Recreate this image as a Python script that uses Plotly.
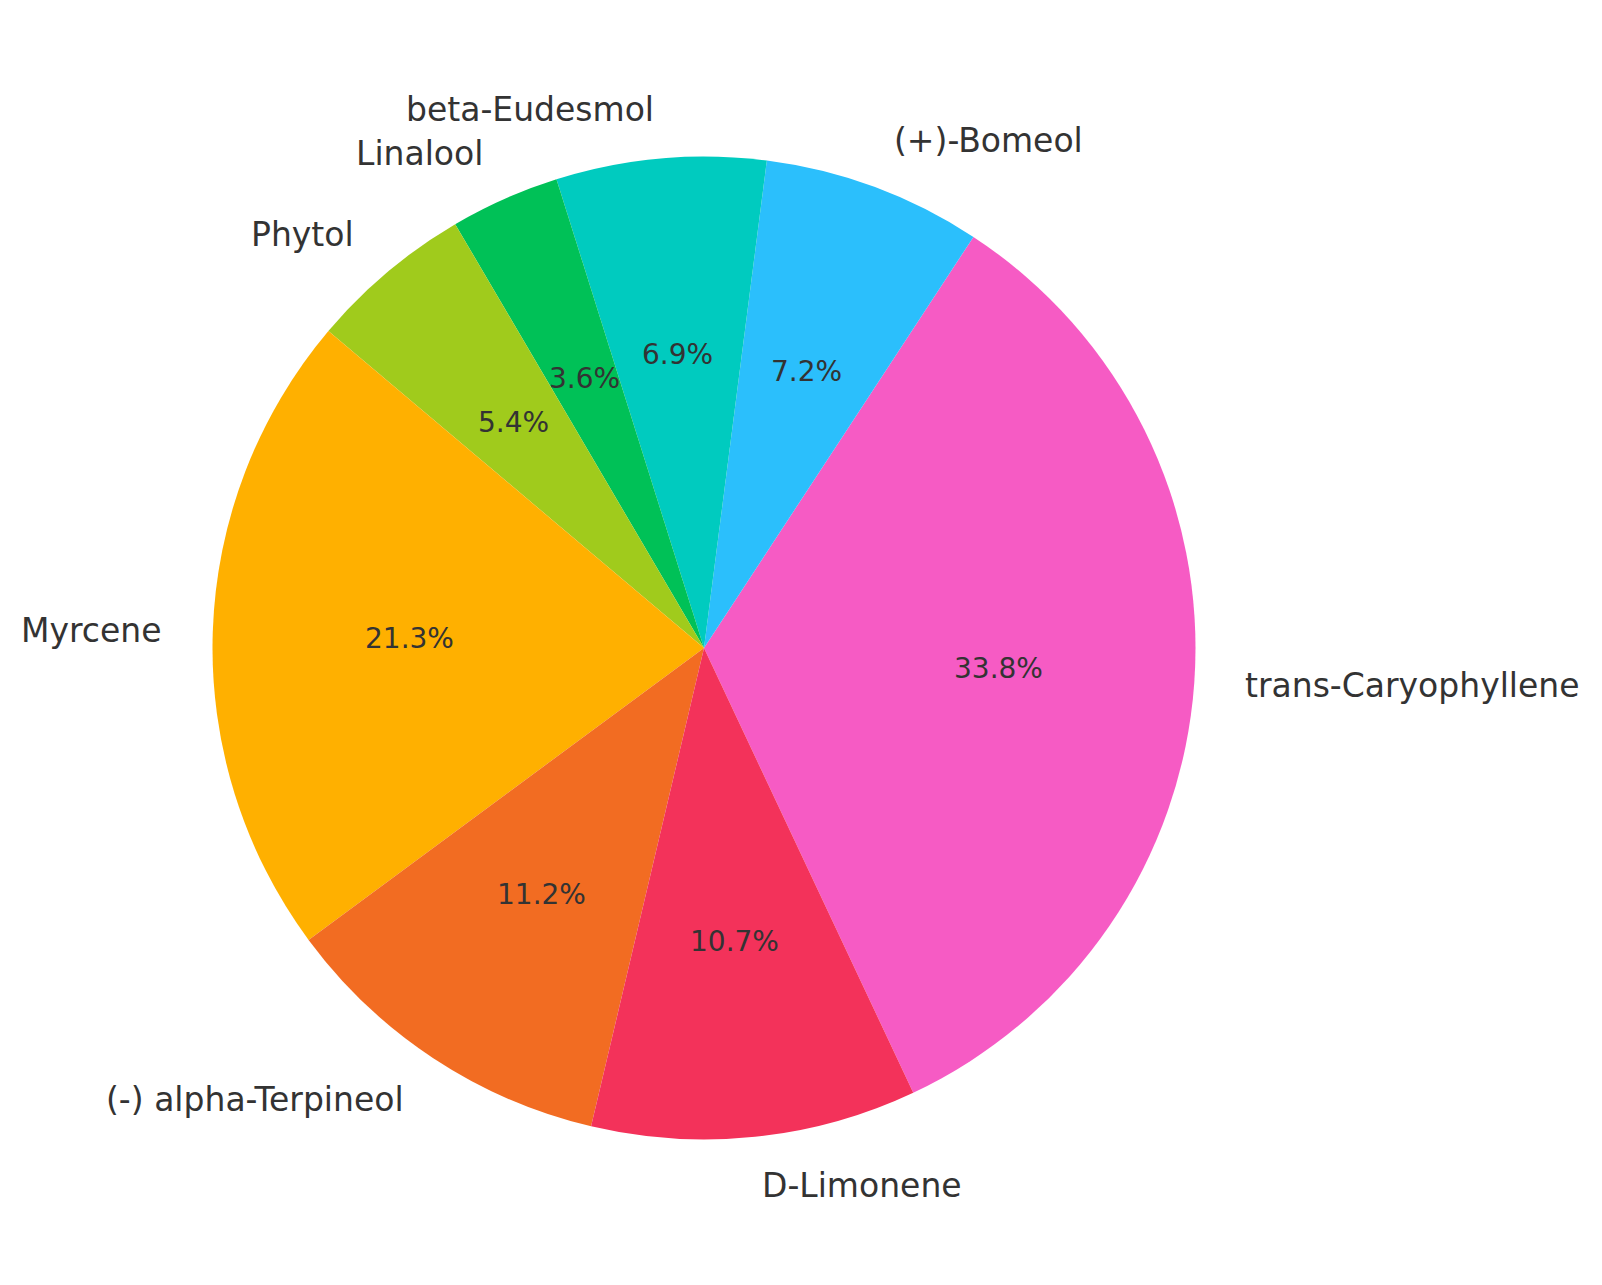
import math
import plotly.graph_objects as go

# data
labels = ["trans-Caryophyllene", "(+)-Bomeol", "beta-Eudesmol", "Linalool",
          "Phytol", "Myrcene", "(-) alpha-Terpineol", "D-Limonene"]
values = [33.8, 7.2, 6.9, 3.6, 5.4, 21.3, 11.2, 10.7]
colors = ["#F65BC4", "#2BBFFC", "#00CBBF", "#00C157",
          "#A0CB1C", "#FFB000", "#F26C22", "#F3325A"]

start_angle = -64.8   # degrees, counterclockwise from 3 o'clock

# page body has an 8px margin, so the figure is a bit smaller and offset
W, H = 1602 - 16, 1285 - 16
cx, cy, R = 704 - 8, 648 - 8, 491.5   # pie centre / radius in figure px

total = sum(values)
# plotly (counterclockwise) puts the end of the first slice at `rotation`
first_end = start_angle + values[0] / total * 360

fig = go.Figure(go.Pie(
    labels=labels,
    values=values,
    marker=dict(colors=colors, line=dict(width=0)),
    sort=False,
    direction="counterclockwise",
    rotation=90 - first_end,
    textinfo="none",
    hoverinfo="label+percent",
    showlegend=False,
    domain=dict(x=[(cx - R) / W, (cx + R) / W],
                y=[1 - (cy + R) / H, 1 - (cy - R) / H]),
))

# labels at 1.1 R and percentages at 0.6 R, like matplotlib
ang = start_angle
for lab, v in zip(labels, values):
    span = v / total * 360
    mid = math.radians(ang + span / 2)
    ang += span
    c, s = math.cos(mid), math.sin(mid)
    fig.add_annotation(
        x=(cx + 1.1 * R * c) / W, y=1 - (cy - 1.1 * R * s) / H,
        xref="paper", yref="paper", text=lab, showarrow=False,
        xanchor="left" if c > 0 else "right", yanchor="middle",
        font=dict(size=33, color="#333333"))
    fig.add_annotation(
        x=(cx + 0.6 * R * c) / W, y=1 - (cy - 0.6 * R * s) / H,
        xref="paper", yref="paper", text=f"{v / total * 100:.1f}%",
        showarrow=False, xanchor="center", yanchor="middle",
        font=dict(size=28, color="#333333"))

fig.update_layout(
    width=W, height=H,
    margin=dict(l=0, r=0, t=0, b=0),
    paper_bgcolor="white",
    font=dict(family="DejaVu Sans", color="#333333"),
)

fig.write_html("out.html")
